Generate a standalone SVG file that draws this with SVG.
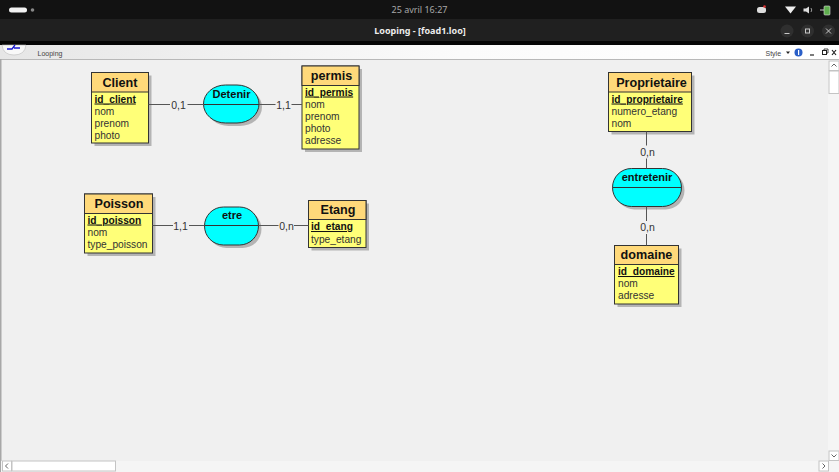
<svg xmlns="http://www.w3.org/2000/svg" width="839" height="472" viewBox="0 0 839 472">
<defs>
<linearGradient id="tb" x1="0" y1="0" x2="1" y2="0">
<stop offset="0" stop-color="#e6e6e6"/><stop offset="0.55" stop-color="#fbfbfb"/><stop offset="1" stop-color="#ffffff"/>
</linearGradient>
</defs>
<style>
text{font-family:"Liberation Sans",Arial,sans-serif;fill:#1c1c1c}
.sh{fill:#b4b4b4}
.head{fill:#ffd97a;stroke:#333;stroke-width:1}
.body{fill:#ffff78;stroke:#333;stroke-width:1}
.t{font-size:12.6px;font-weight:bold;text-anchor:middle;fill:#111}
.k{font-size:10.2px;font-weight:bold;text-decoration:underline;fill:#111}
.a{font-size:10.2px;fill:#333}
.as{fill:#00ffff;stroke:#333;stroke-width:1}
.at{font-size:11px;font-weight:bold;text-anchor:middle;fill:#111}
.div{stroke:#333;stroke-width:1}
.c{stroke:#555;stroke-width:1;fill:none}
.l{font-size:10.5px;text-anchor:middle;fill:#333}
.sb{fill:#fff;stroke:#c4c4c4;stroke-width:1}
.ar{fill:none;stroke:#666;stroke-width:1}
.wb{fill:#2f2f2f}
.wi{fill:none;stroke:#c8c8c8;stroke-width:1}
.ui{font-size:7px;fill:#444}
</style>
<rect width="839" height="472" fill="#f0f0f0"/>
<g id="desktop-bar">
<rect width="839" height="19" fill="#121212"/>
<rect x="9" y="7.500" width="18" height="5" rx="2.500" fill="#f2f2f2"/>
<circle cx="32.500" cy="10" r="1.800" fill="#888"/>
<text x="419.500" y="12.500" text-anchor="middle" style="font-size:9px;fill:#a8a8a8;font-family:'Noto Sans',sans-serif">25 avril   16:27</text>
<rect x="757" y="7" width="9" height="6" rx="2.500" fill="#ddd"/>
<circle cx="764.500" cy="6.500" r="1.300" fill="#e03030"/>
<path d="M785 6.500 H796 L790.500 13.500Z" fill="#eee"/>
<path d="M803.500 8.500 H806 L809 6.500 V13.500 L806 11.500 H803.500Z" fill="#ddd"/>
<path d="M811 8 Q812.500 10 811 12" fill="none" stroke="#999"/>
<rect x="824" y="6" width="6" height="9" rx="1" fill="#5fae4e" stroke="#ddd" stroke-width="0.600"/>
<path d="M820 10 H824" stroke="#ccc"/>
</g>
<g id="title-bar">
<rect y="19" width="839" height="22" fill="#202020"/>
<text x="420" y="34" text-anchor="middle" style="font-size:9px;font-weight:bold;fill:#ececec;font-family:'Noto Sans',sans-serif">Looping - [foad1.loo]</text>
<circle class="wb" cx="787" cy="31" r="6.500"/><path class="wi" d="M784.500 33.500 H789.500"/>
<circle class="wb" cx="807.500" cy="31" r="6.500"/><rect class="wi" x="805.500" y="29" width="4" height="4"/>
<circle class="wb" cx="828.500" cy="31" r="6.500"/><path class="wi" d="M826 28.500 L831 33.500 M831 28.500 L826 33.500"/>
<rect y="41" width="839" height="4" fill="#050505"/>
</g>
<g id="toolbar">
<rect y="45" width="839" height="14" fill="url(#tb)"/>
<path d="M2 45 H26 Q25 55 14 55 Q3 55 2 45Z" fill="#f8f8f8" stroke="#bbb" stroke-width="0.600"/>
<path d="M7 49 H12 L15 45 M14 48 H20" fill="none" stroke="#1818d0" stroke-width="1.300"/>
<text class="ui" x="37.500" y="56">Looping</text>
<text class="ui" x="765.500" y="55.500">Style</text>
<path d="M786 51.500 H790 L788 54Z" fill="#222"/>
<circle cx="798.500" cy="52.500" r="4" fill="#2a5fc8"/><rect x="798" y="50" width="1.200" height="5" fill="#fff"/>
<path d="M810 55 H814" stroke="#222" stroke-width="1.200"/>
<rect x="822.500" y="50.500" width="4" height="4" fill="none" stroke="#222"/><path d="M824 50 V49 H828 V53 H827" fill="none" stroke="#222" stroke-width="0.800"/>
<path d="M832 50 L836 55 M836 50 L832 55" stroke="#222" stroke-width="1.200"/>
<rect y="59" width="839" height="1" fill="#b8b8b8"/>
<rect y="59" width="1.500" height="413" fill="#a8a8a8"/>
</g>
<g id="scrollbars">
<rect x="828" y="60" width="11" height="401" fill="#f5f5f5"/>
<rect x="1" y="461" width="838" height="11" fill="#f5f5f5"/>
<rect class="sb" x="829" y="61" width="10" height="9.500"/><path class="ar" d="M831.500 66.500 L834 64 L836.500 66.500"/>
<rect class="sb" x="829" y="71" width="10" height="22.500"/>
<rect class="sb" x="829" y="451" width="10" height="9.500"/><path class="ar" d="M831.500 454.500 L834 457 L836.500 454.500"/>
<rect class="sb" x="2.500" y="461" width="9" height="10"/><path class="ar" d="M8 463.500 L5.500 466 L8 468.500"/>
<rect class="sb" x="12" y="461" width="103.500" height="10"/>
<rect class="sb" x="819" y="461" width="9.500" height="10"/><path class="ar" d="M822.500 463.500 L825 466 L822.500 468.500"/>
</g>
<g id="Client">
<rect class="sh" x="94.500" y="75.500" width="57" height="70.500"/>
<rect class="body" x="91.500" y="72.500" width="57" height="70.500"/>
<rect class="head" x="91.500" y="72.500" width="57" height="19.500"/>
<text class="t" x="120" y="86.500">Client</text>
<text class="k" x="94.500" y="102.500">id_client</text>
<text class="a" x="94.500" y="114.500">nom</text>
<text class="a" x="94.500" y="126.500">prenom</text>
<text class="a" x="94.500" y="138.500">photo</text>
</g>
<g id="Detenir">
<rect class="sh" x="206.500" y="88" width="55.500" height="38" rx="22" ry="19"/>
<rect class="as" x="203.500" y="85" width="55.500" height="38" rx="22" ry="19"/>
<path class="div" d="M203.500 104.500 H259"/>
<text class="at" x="231.500" y="98">Detenir</text>
</g>
<g id="permis">
<rect class="sh" x="305" y="69" width="57" height="83"/>
<rect class="body" x="302" y="66" width="57" height="83"/>
<rect class="head" x="302" y="66" width="57" height="19.500"/>
<text class="t" x="331.500" y="80">permis</text>
<text class="k" x="305" y="95.500">id_permis</text>
<text class="a" x="305" y="107.500">nom</text>
<text class="a" x="305" y="119.500">prenom</text>
<text class="a" x="305" y="132">photo</text>
<text class="a" x="305" y="144">adresse</text>
</g>
<g id="Poisson">
<rect class="sh" x="87.500" y="197" width="68" height="59"/>
<rect class="body" x="84.500" y="194" width="68" height="59"/>
<rect class="head" x="84.500" y="194" width="68" height="19.500"/>
<text class="t" x="119" y="208">Poisson</text>
<text class="k" x="87.500" y="223.500">id_poisson</text>
<text class="a" x="87.500" y="235.500">nom</text>
<text class="a" x="87.500" y="248">type_poisson</text>
</g>
<g id="etre">
<rect class="sh" x="207.500" y="210" width="54" height="38" rx="19" ry="19"/>
<rect class="as" x="204.500" y="207" width="54" height="38" rx="19" ry="19"/>
<path class="div" d="M204.500 225.500 H258.500"/>
<text class="at" x="232" y="219">etre</text>
</g>
<g id="Etang">
<rect class="sh" x="311.500" y="203.500" width="57.500" height="47"/>
<rect class="body" x="308.500" y="200.500" width="57.500" height="47"/>
<rect class="head" x="308.500" y="200.500" width="57.500" height="19"/>
<text class="t" x="338" y="214">Etang</text>
<text class="k" x="311" y="230">id_etang</text>
<text class="a" x="311" y="242.500">type_etang</text>
</g>
<g id="Proprietaire">
<rect class="sh" x="611.500" y="75.500" width="83" height="59"/>
<rect class="body" x="608.500" y="72.500" width="83" height="59"/>
<rect class="head" x="608.500" y="72.500" width="83" height="19.500"/>
<text class="t" x="651.500" y="86.500">Proprietaire</text>
<text class="k" x="611.500" y="102.500">id_proprietaire</text>
<text class="a" x="611.500" y="114.500">numero_etang</text>
<text class="a" x="611.500" y="126.500">nom</text>
</g>
<g id="entretenir">
<rect class="sh" x="615.500" y="171.500" width="69" height="38" rx="19" ry="19"/>
<rect class="as" x="612.500" y="168.500" width="69" height="38" rx="19" ry="19"/>
<path class="div" d="M612.500 187.500 H681.500"/>
<text class="at" x="647" y="181">entretenir</text>
</g>
<g id="domaine">
<rect class="sh" x="617.500" y="248.500" width="64" height="58.500"/>
<rect class="body" x="614.500" y="245.500" width="64" height="58.500"/>
<rect class="head" x="614.500" y="245.500" width="64" height="19"/>
<text class="t" x="646.500" y="259">domaine</text>
<text class="k" x="618" y="275">id_domaine</text>
<text class="a" x="618" y="287">nom</text>
<text class="a" x="618" y="299">adresse</text>
</g>
<g id="connectors">
<path class="c" d="M148.500 104.500 H170 M187.500 104.500 H204 M259 104.500 H275.500 M291.500 104.500 H302"/>
<path class="c" d="M152.500 225.500 H173 M189 225.500 H204.500 M258.500 225.500 H278.500 M294 225.500 H308.500"/>
<path class="c" d="M646.500 131.500 V145.500 M646.500 158.500 V168.500 M646.500 206.500 V221 M646.500 234 V245.500"/>
</g>
<g id="labels">
<text class="l" x="178.500" y="108.500">0,1</text>
<text class="l" x="283.500" y="108.500">1,1</text>
<text class="l" x="180.500" y="229.500">1,1</text>
<text class="l" x="286.500" y="229.500">0,n</text>
<text class="l" x="647.500" y="156">0,n</text>
<text class="l" x="647.500" y="231">0,n</text>
</g>
</svg>
